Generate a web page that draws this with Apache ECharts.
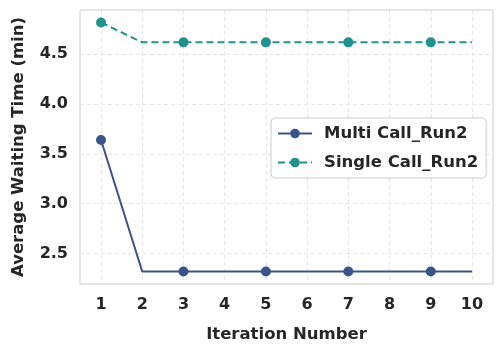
<!DOCTYPE html>
<html>
<head>
<meta charset="utf-8">
<script src="https://cdn.jsdelivr.net/npm/echarts@6/dist/echarts.min.js"></script>
<style>
	html, body { margin: 0; padding: 0; background: #fff; }
	#chart { width: 503px; height: 353px; }
</style>
</head>
<body>
<div id="chart"></div>
<script>
// 数据
const iterations = [1, 2, 3, 4, 5, 6, 7, 8, 9, 10];
const multiCall = [3.64, 2.32, 2.32, 2.32, 2.32, 2.32, 2.32, 2.32, 2.32, 2.32];
const singleCall = [4.82, 4.62, 4.62, 4.62, 4.62, 4.62, 4.62, 4.62, 4.62, 4.62];
const yTicks = [2.5, 3.0, 3.5, 4.0, 4.5];

const FONT = 'DejaVu Sans';

function pairs(values) {
	return iterations.map((x, i) => [x, values[i]]);
}

// 每隔一个点画标记
const markEvery = (val, params) => (params.dataIndex % 2 === 0 ? 10 : 0);

const chart = echarts.init(document.getElementById('chart'));
chart.setOption({
	animation: false,
	grid: {
		left: 80,
		right: 10,
		top: 10,
		bottom: 69,
		show: true,
		borderColor: '#cccccc',
		borderWidth: 1
	},
	legend: {
		left: 271,
		top: 118,
		orient: 'vertical',
		padding: [7, 8, 7, 6],
		itemWidth: 34,
		itemHeight: 12,
		itemGap: 12,
		backgroundColor: 'rgba(255,255,255,0.8)',
		borderColor: '#cccccc',
		borderWidth: 1,
		borderRadius: 4,
		textStyle: {
			fontFamily: FONT,
			fontWeight: 'bold',
			fontSize: 16.5,
			color: '#262626',
			padding: [0, 0, 0, 7]
		},
		data: ['Multi Call_Run2', 'Single Call_Run2']
	},
	xAxis: {
		type: 'value',
		min: 0.49,
		max: 10.51,
		name: 'Iteration Number',
		nameLocation: 'middle',
		nameGap: 42,
		nameTextStyle: {
			fontFamily: FONT,
			fontWeight: 'bold',
			fontSize: 16.5,
			color: '#262626'
		},
		axisLine: { show: false },
		axisTick: { show: false, customValues: iterations },
		axisLabel: {
			customValues: iterations,
			fontFamily: FONT,
			fontWeight: 'bold',
			fontSize: 16,
			color: '#262626',
			margin: 13
		},
		splitLine: {
			show: true,
			lineStyle: { color: '#e6e6e6', type: [4, 3], width: 1 }
		}
	},
	yAxis: {
		type: 'value',
		min: 2.194,
		max: 4.945,
		name: 'Average Waiting Time (min)',
		nameLocation: 'middle',
		nameGap: 53,
		nameTextStyle: {
			fontFamily: FONT,
			fontWeight: 'bold',
			fontSize: 16.5,
			color: '#262626'
		},
		axisLine: { show: false },
		axisTick: { show: false, customValues: yTicks },
		axisLabel: {
			customValues: yTicks,
			formatter: v => v.toFixed(1),
			fontFamily: FONT,
			fontWeight: 'bold',
			fontSize: 16,
			color: '#262626',
			margin: 12
		},
		splitLine: {
			show: true,
			lineStyle: { color: '#e6e6e6', type: [4, 3], width: 1 }
		}
	},
	series: [
		{
			name: 'Multi Call_Run2',
			type: 'line',
			data: pairs(multiCall),
			symbol: 'circle',
			symbolSize: markEvery,
			showAllSymbol: true,
			color: '#3b528b',
			lineStyle: { width: 2, color: '#3b528b' },
			itemStyle: { color: '#3b528b' }
		},
		{
			name: 'Single Call_Run2',
			type: 'line',
			data: pairs(singleCall),
			symbol: 'circle',
			symbolSize: markEvery,
			showAllSymbol: true,
			color: '#21918c',
			lineStyle: { width: 2, color: '#21918c', type: [7, 4] },
			itemStyle: { color: '#21918c' }
		}
	]
});
</script>
</body>
</html>
